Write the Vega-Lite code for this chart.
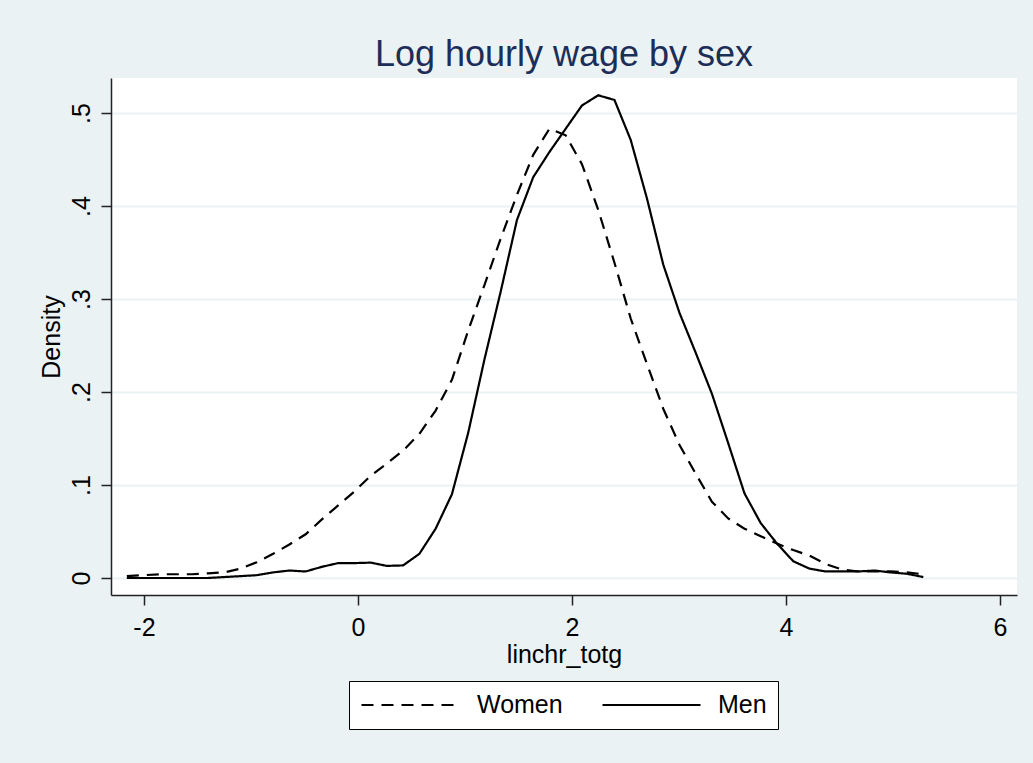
{
  "$schema": "https://vega.github.io/schema/vega-lite/v6.json",
  "width": 906,
  "height": 517,
  "autosize": {"type": "none"},
  "padding": {"left": 111, "top": 78, "right": 16, "bottom": 168},
  "background": "#EAF2F3",
  "title": {
    "text": "Log hourly wage by sex",
    "font": "Liberation Sans",
    "fontSize": 36,
    "fontWeight": "normal",
    "color": "#1C2D57",
    "anchor": "middle",
    "baseline": "alphabetic",
    "offset": 12,
    "dy": 36
  },
  "data": {
    "values": [
      {"x": -2.160, "d": 0.002, "sex": "Women"},
      {"x": -2.008, "d": 0.003, "sex": "Women"},
      {"x": -1.856, "d": 0.004, "sex": "Women"},
      {"x": -1.704, "d": 0.004, "sex": "Women"},
      {"x": -1.552, "d": 0.004, "sex": "Women"},
      {"x": -1.401, "d": 0.005, "sex": "Women"},
      {"x": -1.249, "d": 0.006, "sex": "Women"},
      {"x": -1.097, "d": 0.010, "sex": "Women"},
      {"x": -0.945, "d": 0.017, "sex": "Women"},
      {"x": -0.793, "d": 0.026, "sex": "Women"},
      {"x": -0.641, "d": 0.036, "sex": "Women"},
      {"x": -0.489, "d": 0.047, "sex": "Women"},
      {"x": -0.337, "d": 0.063, "sex": "Women"},
      {"x": -0.185, "d": 0.078, "sex": "Women"},
      {"x": -0.033, "d": 0.093, "sex": "Women"},
      {"x": 0.119, "d": 0.110, "sex": "Women"},
      {"x": 0.270, "d": 0.123, "sex": "Women"},
      {"x": 0.422, "d": 0.137, "sex": "Women"},
      {"x": 0.574, "d": 0.155, "sex": "Women"},
      {"x": 0.726, "d": 0.180, "sex": "Women"},
      {"x": 0.878, "d": 0.213, "sex": "Women"},
      {"x": 1.030, "d": 0.266, "sex": "Women"},
      {"x": 1.182, "d": 0.315, "sex": "Women"},
      {"x": 1.334, "d": 0.365, "sex": "Women"},
      {"x": 1.486, "d": 0.412, "sex": "Women"},
      {"x": 1.638, "d": 0.455, "sex": "Women"},
      {"x": 1.789, "d": 0.483, "sex": "Women"},
      {"x": 1.941, "d": 0.476, "sex": "Women"},
      {"x": 2.093, "d": 0.445, "sex": "Women"},
      {"x": 2.245, "d": 0.396, "sex": "Women"},
      {"x": 2.397, "d": 0.339, "sex": "Women"},
      {"x": 2.549, "d": 0.279, "sex": "Women"},
      {"x": 2.701, "d": 0.230, "sex": "Women"},
      {"x": 2.853, "d": 0.182, "sex": "Women"},
      {"x": 3.005, "d": 0.143, "sex": "Women"},
      {"x": 3.157, "d": 0.112, "sex": "Women"},
      {"x": 3.308, "d": 0.082, "sex": "Women"},
      {"x": 3.460, "d": 0.064, "sex": "Women"},
      {"x": 3.612, "d": 0.053, "sex": "Women"},
      {"x": 3.764, "d": 0.045, "sex": "Women"},
      {"x": 3.916, "d": 0.037, "sex": "Women"},
      {"x": 4.068, "d": 0.030, "sex": "Women"},
      {"x": 4.220, "d": 0.024, "sex": "Women"},
      {"x": 4.372, "d": 0.015, "sex": "Women"},
      {"x": 4.524, "d": 0.009, "sex": "Women"},
      {"x": 4.676, "d": 0.007, "sex": "Women"},
      {"x": 4.827, "d": 0.007, "sex": "Women"},
      {"x": 4.979, "d": 0.007, "sex": "Women"},
      {"x": 5.131, "d": 0.006, "sex": "Women"},
      {"x": 5.283, "d": 0.004, "sex": "Women"},
      {"x": -2.160, "d": 0.000, "sex": "Men"},
      {"x": -2.008, "d": 0.000, "sex": "Men"},
      {"x": -1.856, "d": 0.000, "sex": "Men"},
      {"x": -1.704, "d": 0.000, "sex": "Men"},
      {"x": -1.552, "d": 0.000, "sex": "Men"},
      {"x": -1.401, "d": 0.000, "sex": "Men"},
      {"x": -1.249, "d": 0.001, "sex": "Men"},
      {"x": -1.097, "d": 0.002, "sex": "Men"},
      {"x": -0.945, "d": 0.003, "sex": "Men"},
      {"x": -0.793, "d": 0.006, "sex": "Men"},
      {"x": -0.641, "d": 0.008, "sex": "Men"},
      {"x": -0.489, "d": 0.007, "sex": "Men"},
      {"x": -0.337, "d": 0.012, "sex": "Men"},
      {"x": -0.185, "d": 0.016, "sex": "Men"},
      {"x": -0.033, "d": 0.016, "sex": "Men"},
      {"x": 0.119, "d": 0.0165, "sex": "Men"},
      {"x": 0.270, "d": 0.013, "sex": "Men"},
      {"x": 0.422, "d": 0.0135, "sex": "Men"},
      {"x": 0.574, "d": 0.026, "sex": "Men"},
      {"x": 0.726, "d": 0.053, "sex": "Men"},
      {"x": 0.878, "d": 0.090, "sex": "Men"},
      {"x": 1.030, "d": 0.156, "sex": "Men"},
      {"x": 1.182, "d": 0.235, "sex": "Men"},
      {"x": 1.334, "d": 0.308, "sex": "Men"},
      {"x": 1.486, "d": 0.385, "sex": "Men"},
      {"x": 1.638, "d": 0.431, "sex": "Men"},
      {"x": 1.789, "d": 0.458, "sex": "Men"},
      {"x": 1.941, "d": 0.483, "sex": "Men"},
      {"x": 2.093, "d": 0.508, "sex": "Men"},
      {"x": 2.245, "d": 0.519, "sex": "Men"},
      {"x": 2.397, "d": 0.514, "sex": "Men"},
      {"x": 2.549, "d": 0.471, "sex": "Men"},
      {"x": 2.701, "d": 0.408, "sex": "Men"},
      {"x": 2.853, "d": 0.337, "sex": "Men"},
      {"x": 3.005, "d": 0.285, "sex": "Men"},
      {"x": 3.157, "d": 0.242, "sex": "Men"},
      {"x": 3.308, "d": 0.198, "sex": "Men"},
      {"x": 3.460, "d": 0.145, "sex": "Men"},
      {"x": 3.612, "d": 0.091, "sex": "Men"},
      {"x": 3.764, "d": 0.059, "sex": "Men"},
      {"x": 3.916, "d": 0.037, "sex": "Men"},
      {"x": 4.068, "d": 0.018, "sex": "Men"},
      {"x": 4.220, "d": 0.010, "sex": "Men"},
      {"x": 4.372, "d": 0.007, "sex": "Men"},
      {"x": 4.524, "d": 0.007, "sex": "Men"},
      {"x": 4.676, "d": 0.007, "sex": "Men"},
      {"x": 4.827, "d": 0.008, "sex": "Men"},
      {"x": 4.979, "d": 0.006, "sex": "Men"},
      {"x": 5.131, "d": 0.0045, "sex": "Men"},
      {"x": 5.283, "d": 0.001, "sex": "Men"}
    ]
  },
  "mark": {"type": "line", "color": "black", "strokeWidth": 2.2, "strokeCap": "butt"},
  "encoding": {
    "x": {
      "field": "x",
      "type": "quantitative",
      "scale": {"domain": [-2.308, 6.159], "nice": false, "zero": false},
      "axis": {
        "values": [-2, 0, 2, 4, 6],
        "labelExpr": "datum.value < 0 ? '-' + abs(datum.value) : '' + datum.value",
        "grid": false,
        "title": "linchr_totg",
        "titleY": 67,
        "titleBaseline": "alphabetic",
        "labelPadding": 10
      }
    },
    "y": {
      "field": "d",
      "type": "quantitative",
      "scale": {"domain": [-0.0183, 0.5376], "nice": false, "zero": false},
      "axis": {
        "values": [0, 0.1, 0.2, 0.3, 0.4, 0.5],
        "labelExpr": "datum.value == 0 ? '0' : replace(format(datum.value, '.1f'), '0.', '.')",
        "labelAngle": -90,
        "labelAlign": "center",
        "labelBaseline": "bottom",
        "labelPadding": 7,
        "grid": true,
        "gridColor": "#EAF2F3",
        "gridWidth": 2,
        "title": "Density",
        "titleX": -47,
        "titleBaseline": "bottom"
      }
    },
    "strokeDash": {
      "field": "sex",
      "type": "nominal",
      "scale": {"domain": ["Women", "Men"], "range": [[12, 8], [1, 0]]},
      "legend": {
        "title": null,
        "orient": "none",
        "legendX": 238,
        "legendY": 603,
        "direction": "horizontal",
        "strokeColor": "black",
        "fillColor": "white",
        "padding": 11,
        "labelFont": "Liberation Sans",
        "labelFontSize": 25,
        "labelColor": "black",
        "labelOffset": 16,
        "columnPadding": 38,
        "clipHeight": 26,
        "symbolType": "stroke",
        "symbolSize": 9604,
        "symbolStrokeWidth": 2.2,
        "symbolStrokeColor": "black"
      }
    }
  },
  "config": {
    "view": {"fill": "white", "stroke": null},
    "axis": {
      "domainColor": "#222222",
      "domainWidth": 1.5,
      "tickColor": "#222222",
      "tickWidth": 1.5,
      "tickSize": 10,
      "labelFont": "Liberation Sans",
      "labelFontSize": 25,
      "labelColor": "black",
      "titleFont": "Liberation Sans",
      "titleFontSize": 25,
      "titleFontWeight": "normal",
      "titleColor": "black"
    }
  }
}
